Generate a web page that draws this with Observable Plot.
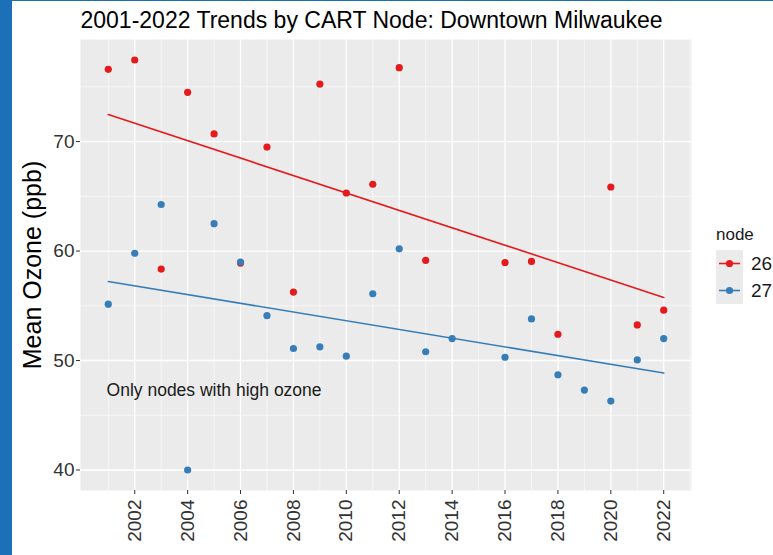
<!DOCTYPE html>
<html>
<head>
<meta charset="utf-8">
<script src="https://cdn.jsdelivr.net/npm/d3@7"></script>
<script src="https://cdn.jsdelivr.net/npm/@observablehq/plot@0.6"></script>
<style>
  html, body { margin: 0; padding: 0; background: #fff; }
  #wrap { position: relative; width: 773px; height: 555px; overflow: hidden; background: #fff; font-family: "Liberation Sans", Arial, sans-serif; }
  #leftbar { position: absolute; left: 0; top: 0; width: 12px; height: 555px; background: #1B70B8; }
  #topbar { position: absolute; left: 0; top: 0; width: 773px; height: 1px; background: #1B70B8; }
  #chart { position: absolute; left: 0; top: 0; }
  #legend { position: absolute; left: 716px; top: 225px; color: #1a1a1a; }
  #legend .ttl { font-size: 17px; line-height: 20px; height: 25px; }
  #legend .row { display: flex; align-items: center; height: 27px; }
  #legend .key { width: 27px; height: 27px; background: #EBEBEB; }
  #legend .lbl { font-size: 19px; margin-left: 8px; }
</style>
</head>
<body>
<div id="wrap">
  <div id="chart"></div>
  <div id="leftbar"></div>
  <div id="topbar"></div>
  <div id="legend"></div>
</div>
<script>
const titleText = "2001-2022 Trends by CART Node: Downtown Milwaukee";
const yLabel = "Mean Ozone (ppb)";
const noteText = "Only nodes with high ozone";
const legendTitle = "node";
const nodes = ["26", "27"];
const colors = ["#E41A1C", "#377EB8"];

const years26 = [2001, 2002, 2003, 2004, 2005, 2006, 2007, 2008, 2009, 2010, 2011, 2012, 2013, 2016, 2017, 2018, 2020, 2021, 2022];
const ozone26 = [76.6, 77.45, 58.35, 74.5, 70.7, 58.9, 69.5, 56.25, 75.25, 65.3, 66.1, 76.75, 59.15, 58.95, 59.05, 52.4, 65.85, 53.25, 54.6];
const years27 = [2001, 2002, 2003, 2004, 2005, 2006, 2007, 2008, 2009, 2010, 2011, 2012, 2013, 2014, 2016, 2017, 2018, 2019, 2020, 2021, 2022];
const ozone27 = [55.15, 59.8, 64.25, 40.0, 62.5, 59.0, 54.1, 51.1, 51.25, 50.4, 56.1, 60.2, 50.8, 52.0, 50.3, 53.8, 48.7, 47.3, 46.3, 50.05, 52.0];

const xTicks = [2002, 2004, 2006, 2008, 2010, 2012, 2014, 2016, 2018, 2020, 2022];
const xMinor = [2001, 2003, 2005, 2007, 2009, 2011, 2013, 2015, 2017, 2019, 2021, 2023];
const yTicks = [40, 50, 60, 70];
const yMinor = [45, 55, 65, 75];
const note = {x: 2005, y: 47.3};

const data = [
  ...years26.map((year, i) => ({year, ozone: ozone26[i], node: nodes[0]})),
  ...years27.map((year, i) => ({year, ozone: ozone27[i], node: nodes[1]}))
];

// ggplot-style 5% expansion
const allY = data.map(d => d.ozone);
const allX = data.map(d => d.year);
const [x0, x1] = d3.extent(allX);
const [y0, y1] = d3.extent(allY);
const xPad = (x1 - x0) * 0.05, yPad = (y1 - y0) * 0.05;

const chart = Plot.plot({
  width: 773,
  height: 555,
  marginLeft: 80,
  marginRight: 82,
  marginTop: 39,
  marginBottom: 65,
  style: {fontFamily: "'Liberation Sans', Arial, sans-serif", background: "transparent", color: "#333", overflow: "visible"},
  x: {domain: [x0 - xPad, x1 + xPad], label: null},
  y: {domain: [y0 - yPad, y1 + yPad], label: null},
  color: {domain: nodes, range: colors},
  marks: [
    Plot.frame({fill: "#EBEBEB", stroke: null}),
    Plot.gridX(xMinor, {stroke: "#fff", strokeOpacity: 1, strokeWidth: 0.6}),
    Plot.gridY(yMinor, {stroke: "#fff", strokeOpacity: 1, strokeWidth: 0.6}),
    Plot.gridX(xTicks, {stroke: "#fff", strokeOpacity: 1, strokeWidth: 1.3}),
    Plot.gridY(yTicks, {stroke: "#fff", strokeOpacity: 1, strokeWidth: 1.3}),
    Plot.axisX(xTicks, {tickFormat: d => String(d), tickRotate: -90, tickSize: 4, tickPadding: 5, fontSize: 19, color: "#333", label: null}),
    Plot.axisY(yTicks, {tickFormat: d => String(d), tickSize: 4, tickPadding: 2, fontSize: 19, color: "#333", label: null}),
    Plot.dot(data, {x: "year", y: "ozone", fill: "node", r: 3.6}),
    Plot.linearRegressionY(data, {x: "year", y: "ozone", stroke: "node", ci: 0, strokeWidth: 1.6}),
    Plot.text([note], {x: "x", y: "y", text: () => noteText, fontSize: 17.5, fill: "#1a1a1a", textAnchor: "middle"}),
    Plot.text([titleText], {frameAnchor: "top-left", text: d => d, dy: -12, lineAnchor: "bottom", fontSize: 23, fill: "#000", textAnchor: "start"}),
    Plot.text([yLabel], {frameAnchor: "left", text: d => d, dx: -48, rotate: -90, fontSize: 25, fill: "#000", textAnchor: "middle", lineAnchor: "middle"})
  ]
});
document.getElementById("chart").appendChild(chart);

// legend
const leg = document.getElementById("legend");
const t = document.createElement("div");
t.className = "ttl";
t.textContent = legendTitle;
leg.appendChild(t);
nodes.forEach((n, i) => {
  const row = document.createElement("div");
  row.className = "row";
  row.innerHTML = `<svg class="key" width="27" height="27"><rect width="27" height="27" fill="#EBEBEB"/><line x1="3" x2="24" y1="13.5" y2="13.5" stroke="${colors[i]}" stroke-width="1.6"/><circle cx="13.5" cy="13.5" r="3.6" fill="${colors[i]}"/></svg><span class="lbl">${n}</span>`;
  leg.appendChild(row);
});
</script>
</body>
</html>
